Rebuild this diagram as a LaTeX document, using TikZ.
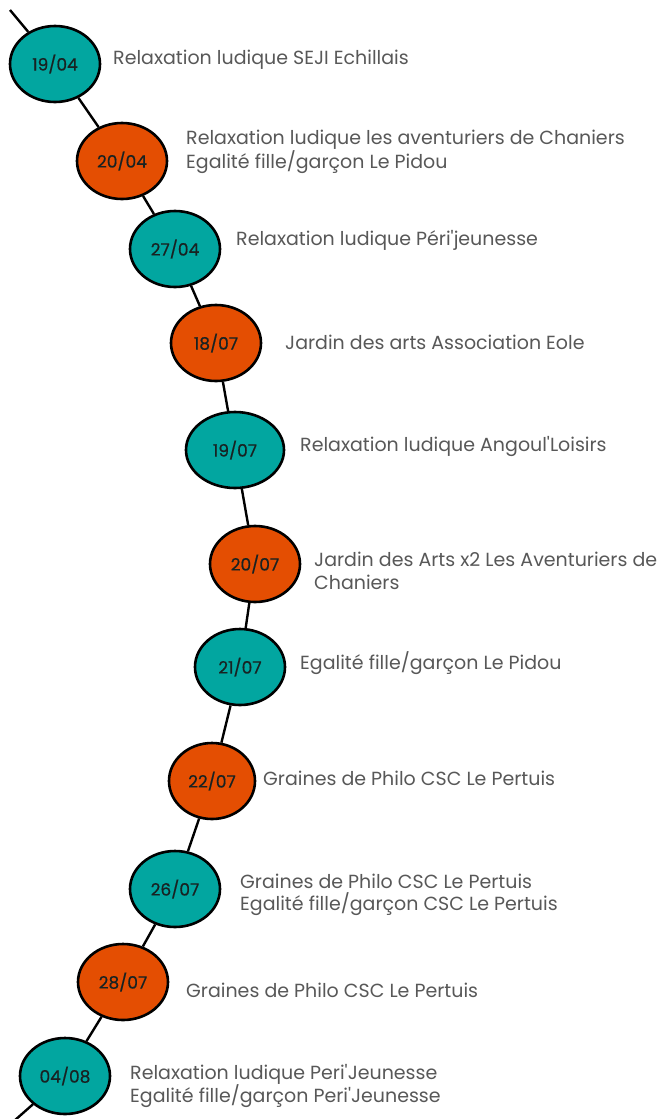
\documentclass[tikz,border=0pt]{standalone}
\usepackage{fontspec}
\setmainfont{Poppins}[Ligatures=TeXOff]
\newfontfamily\datefont{Poppins}[FakeBold=0.6]
\usetikzlibrary{shapes.geometric}
\definecolor{tealc}{RGB}{2,166,160}
\definecolor{orangec}{RGB}{228,78,2}
\definecolor{txtc}{RGB}{88,88,88}
\definecolor{datec}{RGB}{24,34,34}
\tikzset{
  dot/.style={ellipse, draw=black, line width=2.6pt, inner sep=0pt,
    minimum width=90pt, minimum height=76pt, text=datec,
    font=\datefont\fontsize{17}{20}\selectfont},
  tdot/.style={dot, fill=tealc},
  odot/.style={dot, fill=orangec},
  lbl/.style={anchor=west, inner sep=0pt, align=left, text=txtc,
    font=\fontsize{19}{22.5}\selectfont},
  link/.style={line width=2.4pt, draw=black}
}
\begin{document}
\begin{tikzpicture}[x=1pt,y=-1pt]
\useasboundingbox[fill=white] (0,0) rectangle (664,1119);
\coordinate (top) at (10,10);
\coordinate (bot) at (14,1121);
\node[tdot] (e1) at (55,64) {19/04};
\node[odot] (e2) at (122,161) {20/04};
\node[tdot] (e3) at (175,249) {27/04};
\node[odot] (e4) at (216,343) {18/07};
\node[tdot, minimum width=98pt] (e5) at (235,450) {19/07};
\node[odot] (e6) at (255,564) {20/07};
\node[tdot] (e7) at (240,667) {21/07};
\node[odot, minimum width=86pt] (e8) at (212,781) {22/07};
\node[tdot] (e9) at (175,889) {26/07};
\node[odot] (e10) at (123,982) {28/07};
\node[tdot] (e11) at (65,1076) {04/08};
\draw[link] (top) -- (e1);
\draw[link] (e1) -- (e2);
\draw[link] (e2) -- (e3);
\draw[link] (e3) -- (e4);
\draw[link] (e4) -- (e5);
\draw[link] (e5) -- (e6);
\draw[link] (e6) -- (e7);
\draw[link] (e7) -- (e8);
\draw[link] (e8) -- (e9);
\draw[link] (e9) -- (e10);
\draw[link] (e10) -- (e11);
\draw[link] (e11) -- (bot);
\node[lbl] (t1) at (113,60) {Relaxation ludique SEJI Echillais};
\node[lbl] (t2) at (186,152) {Relaxation ludique les aventuriers de Chaniers\\Egalité fille/garçon Le Pidou};
\node[lbl] (t3) at (236,240) {Relaxation ludique Péri'jeunesse};
\node[lbl] (t4) at (285,342) {Jardin des arts Association Eole};
\node[lbl] (t5) at (300,446) {Relaxation ludique Angoul'Loisirs};
\node[lbl] (t6) at (314,571) {Jardin des Arts x2 Les Aventuriers de\\Chaniers};
\node[lbl] (t7) at (300,663) {Egalité fille/garçon Le Pidou};
\node[lbl] (t8) at (263,778) {Graines de Philo CSC Le Pertuis};
\node[lbl] (t9) at (240,895) {Graines de Philo CSC Le Pertuis\\Egalité fille/garçon CSC Le Pertuis};
\node[lbl] (t10) at (186,990) {Graines de Philo CSC Le Pertuis};
\node[lbl] (t11) at (130,1086) {Relaxation ludique Peri'Jeunesse\\Egalité fille/garçon Peri'Jeunesse};
\end{tikzpicture}
\end{document}
